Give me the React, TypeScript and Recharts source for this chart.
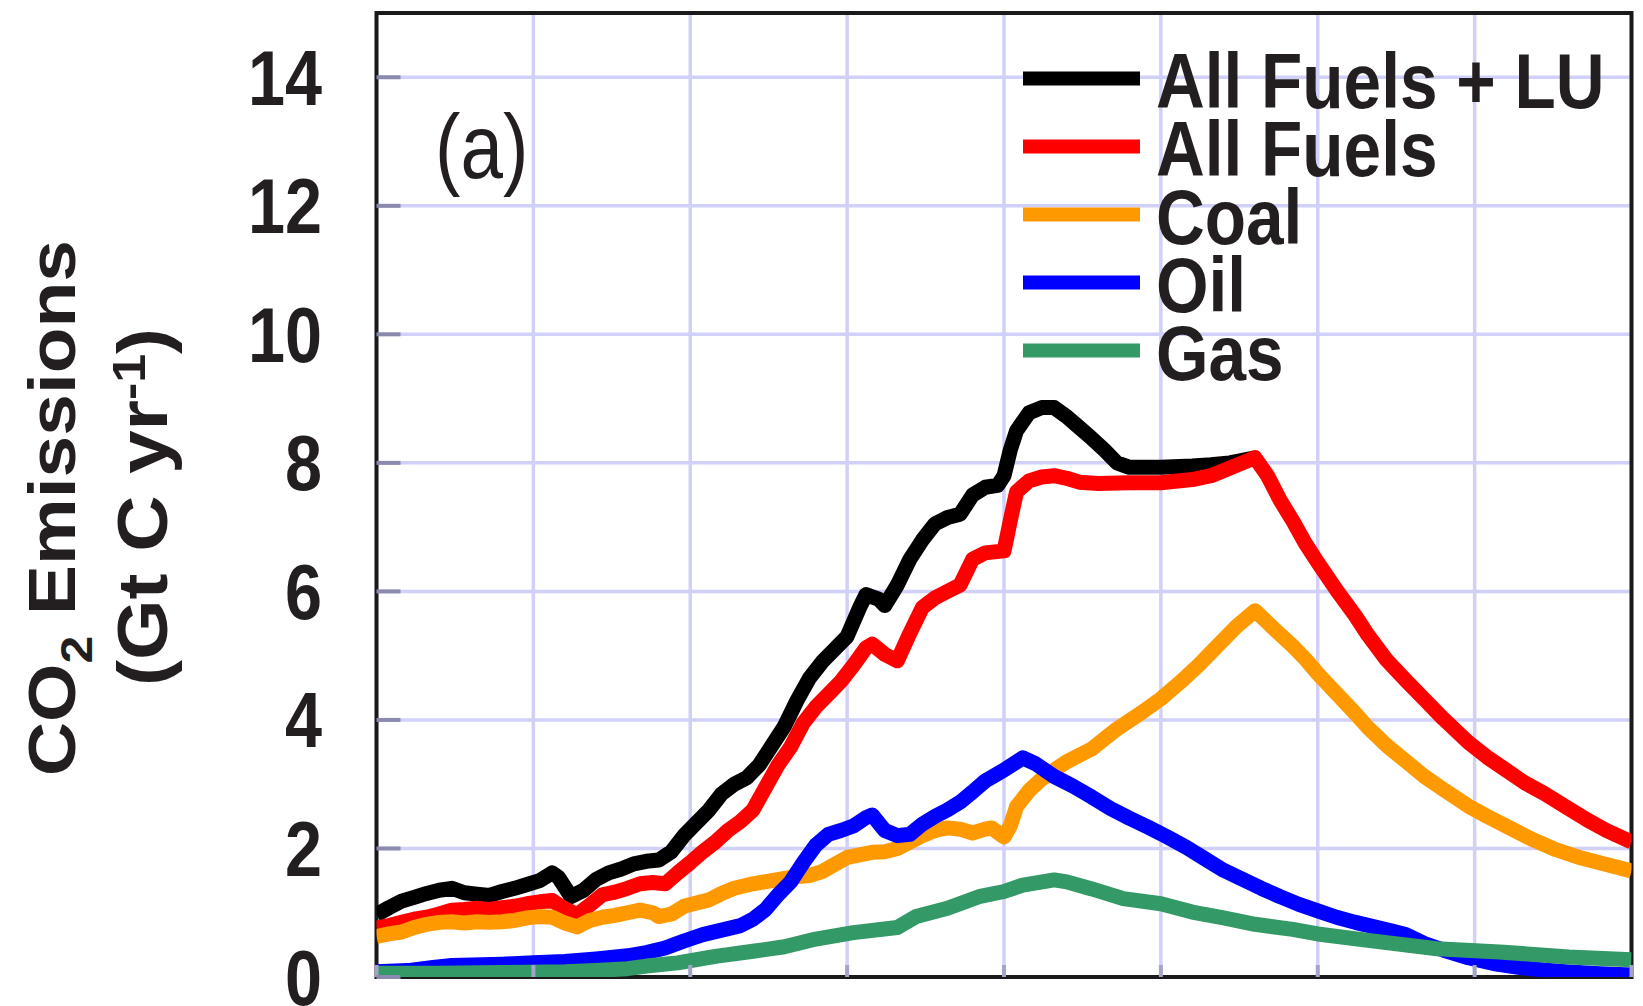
import React from "react";
import { LineChart, Line, XAxis, YAxis, CartesianGrid, ReferenceArea } from "recharts";

// Tick values
const YEAR_TICKS = [1900, 1925, 1950, 1975, 2000, 2025, 2050, 2075, 2100];
const Y_TICKS = [0, 2, 4, 6, 8, 10, 12, 14];

// Series: [year, GtC/yr]
const ALL_FUELS_LU = [
  [1900, 0.97], [1902, 1.08], [1904, 1.18], [1906, 1.24], [1908, 1.3], [1910, 1.35], [1912, 1.38],
  [1914, 1.31], [1916, 1.29], [1918, 1.27], [1920, 1.33], [1922, 1.38], [1924, 1.44], [1926, 1.5],
  [1928, 1.62], [1929, 1.55], [1931, 1.25], [1933, 1.35], [1935, 1.52], [1937, 1.62], [1939, 1.68],
  [1941, 1.76], [1943, 1.8], [1945, 1.82], [1947, 1.95], [1949, 2.2], [1951, 2.4], [1953, 2.6],
  [1955, 2.85], [1957, 3.0], [1959, 3.1], [1961, 3.3], [1963, 3.6], [1965, 3.9], [1967, 4.3],
  [1969, 4.65], [1971, 4.9], [1973, 5.1], [1975, 5.3], [1977, 5.75], [1978, 5.95], [1980, 5.88],
  [1981, 5.78], [1983, 6.1], [1985, 6.5], [1987, 6.8], [1989, 7.05], [1991, 7.15], [1993, 7.2],
  [1995, 7.5], [1997, 7.62], [1999, 7.65], [2000, 7.8], [2001, 8.2], [2002, 8.5], [2004, 8.78],
  [2006, 8.86], [2008, 8.86], [2010, 8.72], [2012, 8.55], [2014, 8.38], [2016, 8.2], [2018, 8.0],
  [2020, 7.93], [2025, 7.93], [2030, 7.95], [2033, 7.97], [2036, 8.0], [2040, 8.08],
];

const ALL_FUELS = [
  [1900, 0.76], [1902, 0.8], [1904, 0.85], [1906, 0.9], [1908, 0.93], [1910, 0.98], [1912, 1.04],
  [1914, 1.05], [1916, 1.07], [1918, 1.05], [1920, 1.08], [1922, 1.1], [1924, 1.14], [1926, 1.17],
  [1928, 1.19], [1930, 1.06], [1932, 0.97], [1934, 1.12], [1936, 1.28], [1938, 1.32], [1940, 1.38],
  [1942, 1.45], [1944, 1.47], [1946, 1.45], [1948, 1.62], [1950, 1.78], [1952, 1.95], [1954, 2.1],
  [1956, 2.28], [1958, 2.42], [1960, 2.6], [1962, 2.95], [1964, 3.3], [1966, 3.58], [1968, 3.95],
  [1970, 4.2], [1972, 4.4], [1974, 4.6], [1976, 4.85], [1978, 5.12], [1979, 5.18], [1981, 5.02],
  [1983, 4.92], [1985, 5.35], [1987, 5.75], [1989, 5.9], [1991, 6.0], [1993, 6.1], [1995, 6.5],
  [1997, 6.6], [2000, 6.63], [2001, 7.1], [2002, 7.55], [2004, 7.72], [2006, 7.78], [2008, 7.8],
  [2010, 7.76], [2012, 7.7], [2015, 7.68], [2020, 7.69], [2025, 7.69], [2030, 7.74], [2033, 7.8],
  [2036, 7.92], [2038, 8.0], [2040, 8.08], [2042, 7.8], [2044, 7.42], [2046, 7.1], [2048, 6.75],
  [2050, 6.45], [2053, 6.02], [2056, 5.62], [2058, 5.32], [2061, 4.93], [2064, 4.62], [2067, 4.32],
  [2070, 4.02], [2074, 3.65], [2077, 3.42], [2080, 3.22], [2083, 3.02], [2086, 2.86], [2090, 2.62],
  [2093, 2.44], [2096, 2.28], [2100, 2.1],
];

const COAL = [
  [1900, 0.63], [1902, 0.67], [1904, 0.7], [1906, 0.77], [1908, 0.82], [1910, 0.85], [1912, 0.86],
  [1914, 0.84], [1916, 0.86], [1918, 0.85], [1920, 0.86], [1922, 0.88], [1924, 0.92], [1926, 0.94],
  [1928, 0.93], [1930, 0.84], [1932, 0.78], [1934, 0.88], [1936, 0.93], [1938, 0.96], [1940, 1.0],
  [1942, 1.04], [1944, 1.0], [1945, 0.94], [1947, 0.98], [1949, 1.1], [1951, 1.15], [1953, 1.2],
  [1955, 1.3], [1957, 1.38], [1960, 1.45], [1963, 1.5], [1966, 1.55], [1969, 1.58], [1971, 1.64],
  [1973, 1.75], [1975, 1.86], [1977, 1.9], [1979, 1.94], [1981, 1.95], [1983, 2.0], [1985, 2.1],
  [1987, 2.2], [1989, 2.28], [1991, 2.32], [1993, 2.3], [1995, 2.24], [1997, 2.3], [1998, 2.32],
  [2000, 2.18], [2001, 2.35], [2002, 2.65], [2004, 2.9], [2006, 3.08], [2008, 3.22], [2010, 3.35],
  [2014, 3.55], [2018, 3.86], [2022, 4.12], [2025, 4.33], [2028, 4.58], [2031, 4.85], [2034, 5.15],
  [2037, 5.45], [2040, 5.7], [2043, 5.42], [2046, 5.15], [2048, 4.95], [2050, 4.72], [2053, 4.41],
  [2056, 4.1], [2058, 3.88], [2061, 3.6], [2064, 3.36], [2067, 3.12], [2070, 2.92], [2074, 2.66],
  [2077, 2.5], [2080, 2.35], [2084, 2.15], [2088, 1.98], [2092, 1.85], [2096, 1.75], [2100, 1.65],
];

const OIL = [
  [1900, 0.08], [1905, 0.1], [1909, 0.15], [1912, 0.18], [1920, 0.2], [1925, 0.22], [1930, 0.24],
  [1935, 0.28], [1940, 0.33], [1943, 0.38], [1946, 0.45], [1949, 0.56], [1952, 0.66], [1955, 0.73],
  [1958, 0.8], [1960, 0.9], [1962, 1.05], [1964, 1.28], [1966, 1.48], [1968, 1.78], [1970, 2.05],
  [1972, 2.22], [1974, 2.28], [1976, 2.35], [1978, 2.48], [1979, 2.52], [1981, 2.28], [1983, 2.2],
  [1985, 2.22], [1987, 2.38], [1989, 2.5], [1991, 2.6], [1993, 2.72], [1995, 2.88], [1997, 3.05],
  [2000, 3.22], [2003, 3.41], [2005, 3.32], [2008, 3.12], [2011, 2.97], [2014, 2.8], [2017, 2.62],
  [2020, 2.47], [2023, 2.33], [2026, 2.18], [2029, 2.02], [2032, 1.84], [2035, 1.66], [2038, 1.52],
  [2041, 1.38], [2044, 1.25], [2047, 1.13], [2050, 1.03], [2053, 0.93], [2056, 0.85], [2059, 0.78],
  [2062, 0.71], [2064, 0.66], [2067, 0.52], [2070, 0.42], [2074, 0.3], [2078, 0.21], [2082, 0.15],
  [2086, 0.11], [2090, 0.08], [2095, 0.05], [2100, 0.03],
];

const GAS = [
  [1900, 0.06], [1910, 0.06], [1920, 0.07], [1930, 0.08], [1935, 0.1], [1940, 0.13], [1943, 0.17],
  [1948, 0.22], [1954, 0.32], [1960, 0.4], [1965, 0.47], [1970, 0.59], [1976, 0.69], [1983, 0.77],
  [1986, 0.94], [1991, 1.07], [1996, 1.25], [2000, 1.33], [2003, 1.43], [2008, 1.51], [2010, 1.48],
  [2014, 1.37], [2019, 1.22], [2025, 1.14], [2030, 1.01], [2035, 0.92], [2040, 0.82], [2046, 0.74],
  [2050, 0.67], [2058, 0.57], [2069, 0.44], [2079, 0.39], [2090, 0.31], [2100, 0.27],
];

const SERIES_NAMES = ["All Fuels + LU", "All Fuels", "Coal", "Oil", "Gas"];
const SERIES_COLORS = ["#000000", "#ff0000", "#ff9900", "#0000ff", "#339966"];
const SERIES_DATA = [ALL_FUELS_LU, ALL_FUELS, COAL, OIL, GAS];

const FONT = "'Liberation Sans', Arial, Helvetica, sans-serif";
const W = 1635;
const H = 998;

const toRows = (pts: number[][]) => pts.map(([year, value]) => ({ year, value }));

const LeftTick = (props: any) => {
  const { x, y, payload } = props;
  return (
    <g>
      <line x1={x} x2={x + 24} y1={y} y2={y} stroke="#8a8aae" strokeWidth={4} />
      <text
        transform={`translate(${x - 54.5},${y + 27.5}) scale(0.865,1)`}
        textAnchor="end"
        fontFamily={FONT}
        fontSize={77}
        fontWeight="bold"
        fill="#231f20"
      >
        {payload.value}
      </text>
    </g>
  );
};

const BottomTick = (props: any) => {
  const { x, y } = props;
  return <line x1={x} x2={x} y1={y} y2={y - 12} stroke="#a4a4c8" strokeWidth={4} />;
};

export default function App() {
  return (
    <div style={{ position: "relative", width: W, height: H, background: "#fff" }}>
      <LineChart width={W} height={H} margin={{ top: 5, right: 11.5, bottom: 28, left: 0 }}>
        <CartesianGrid stroke="#d0d0f8" strokeWidth={3.5} />
        <XAxis
          dataKey="year"
          type="number"
          domain={[1900, 2100]}
          ticks={YEAR_TICKS}
          interval={0}
          allowDataOverflow
          height={1}
          axisLine={false}
          tickLine={false}
          tickSize={0}
          tickMargin={0}
          tick={<BottomTick />}
        />
        <YAxis
          type="number"
          domain={[0, 15]}
          ticks={Y_TICKS}
          interval={0}
          allowDataOverflow
          width={368.5}
          axisLine={false}
          tickLine={false}
          tickSize={0}
          tickMargin={0}
          tick={<LeftTick />}
        />
        {SERIES_DATA.map((pts, i) => (
          <Line
            key={SERIES_NAMES[i]}
            data={toRows(pts)}
            dataKey="value"
            name={SERIES_NAMES[i]}
            type="linear"
            stroke={SERIES_COLORS[i]}
            strokeWidth={15}
            strokeLinejoin="round"
            strokeLinecap="butt"
            dot={false}
            activeDot={false}
            isAnimationActive={false}
          />
        ))}
        <ReferenceArea
          x1={1900}
          x2={2100}
          y1={0}
          y2={15}
          fill="none"
          fillOpacity={0}
          stroke="#1a1a1a"
          strokeWidth={4}
          ifOverflow="visible"
        />
      </LineChart>
      <svg
        width={W}
        height={H}
        style={{ position: "absolute", left: 0, top: 0, pointerEvents: "none" }}
      >
        {/* y-axis title */}
        <text
          transform="translate(67,500) scale(0.9,1) rotate(-90)"
          textAnchor="middle"
          fontFamily={FONT}
          fontSize={75}
          fontWeight="bold"
          fill="#231f20"
        >
          CO
          <tspan fontSize={50} dy={19}>2</tspan>
          <tspan dy={-19}> Emissions</tspan>
        </text>
        <text
          transform="translate(159,499) scale(0.9,1) rotate(-90)"
          textAnchor="middle"
          fontFamily={FONT}
          fontSize={78}
          fontWeight="bold"
          fill="#231f20"
        >
          (Gt C yr
          <tspan fontSize={52} dy={-25}>-1</tspan>
          <tspan dy={25}>)</tspan>
        </text>
        {/* panel label */}
        <text
          transform="translate(427,170) scale(0.84,1)"
          fontFamily={FONT}
          fontSize={91}
          fill="#231f20"
        >
          (a)
        </text>
        {/* legend */}
        {SERIES_NAMES.map((name, i) => {
          const baseline = 100 + 68 * i;
          return (
            <g key={name}>
              <line
                x1={1015}
                x2={1132}
                y1={baseline - 29.5}
                y2={baseline - 29.5}
                stroke={SERIES_COLORS[i]}
                strokeWidth={14}
              />
              <text
                transform={`translate(1148,${baseline}) scale(0.866,1)`}
                fontFamily={FONT}
                fontSize={78}
                fontWeight="bold"
                fill="#231f20"
              >
                {name}
              </text>
            </g>
          );
        })}
      </svg>
    </div>
  );
}
